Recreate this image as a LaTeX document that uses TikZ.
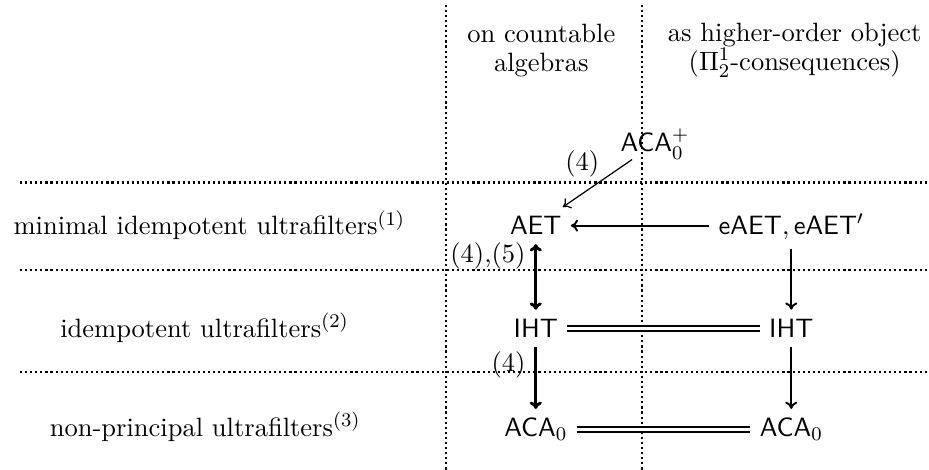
\documentclass[tikz,border=0pt,11pt]{standalone}
\usepackage{amsmath, amssymb}
\usetikzlibrary{arrows.meta, positioning}

\tikzset{
  sep/.style={line width=0.9pt, dash pattern=on 0.9pt off 1.2pt},
  imp/.style={-{To[length=3pt,width=5pt]}, line width=0.8pt},
  biimp/.style={{To[length=3pt,width=5pt]}-{To[length=3pt,width=5pt]}, line width=1.2pt},
  eq/.style={double, double distance=1.2pt, line width=0.8pt},
  head/.style={align=center, font=\fontsize{10.95}{11.8}\selectfont}
}

\begin{document}
\begin{tikzpicture}
        \useasboundingbox (0,0) rectangle (13.49,6.82);

        % dotted grid
        \draw[sep] (6.48,6.75) -- (6.48,0);
        \draw[sep] (9.32,6.75) -- (9.32,0);
        \draw[sep] (0.29,4.17) -- (13.46,4.17);
        \draw[sep] (0.29,2.90) -- (13.46,2.90);
        \draw[sep] (0.29,1.42) -- (13.46,1.42);

        % column and row headings
        \node[head] at (7.86,6.09) (colalg) {on countable\\algebras};
        \node[head] at (11.54,6.09) (colho) {as higher-order object\\($\Pi^1_2$-consequences)};
        \node[anchor=base] at (3.04,3.41) (rowmin) {minimal idempotent ultrafilters$^{(1)}$};
        \node[anchor=base] at (2.97,1.92) (rowidem) {idempotent ultrafilters$^{(2)}$};
        \node[anchor=base] at (2.98,0.48) (rownp) {non-principal ultrafilters$^{(3)}$};

        % principles
        \node[anchor=base, inner sep=0pt] at (9.51,4.62) (acap) {$\mathsf{ACA}_0^+$};
        \node[anchor=base] at (7.78,3.41) (aet) {$\mathsf{AET}$};
        \node[anchor=base] at (11.49,3.41) (eaet) {$\mathsf{eAET}, \mathsf{eAET}'$};
        \node[anchor=base] at (7.78,1.92) (ihtl) {$\mathsf{IHT}$};
        \node[anchor=base] at (11.49,1.92) (ihtr) {$\mathsf{IHT}$};
        \node[anchor=base] at (7.78,0.48) (acal) {$\mathsf{ACA}_0$};
        \node[anchor=base] at (11.49,0.48) (acar) {$\mathsf{ACA}_0$};

        \draw[imp, line width=0.5pt] (acap) -- node[above left, inner sep=1pt, pos=.43] {(4)} (aet);
        \draw[imp] (eaet.west |- aet) -- (aet);
        \draw[biimp] (aet) -- node[left, pos=.18] {(4),(5)} (ihtl);
        \draw[imp, line width=1.2pt] (ihtl) -- node[left, pos=.29] {(4)} (acal);
        \draw[imp] (eaet) -- (ihtr);
        \draw[imp] (ihtr) -- (acar);
        \draw[eq] (ihtl) -- (ihtr);
        \draw[eq] (acal) -- (acar);
    \end{tikzpicture}
\end{document}
